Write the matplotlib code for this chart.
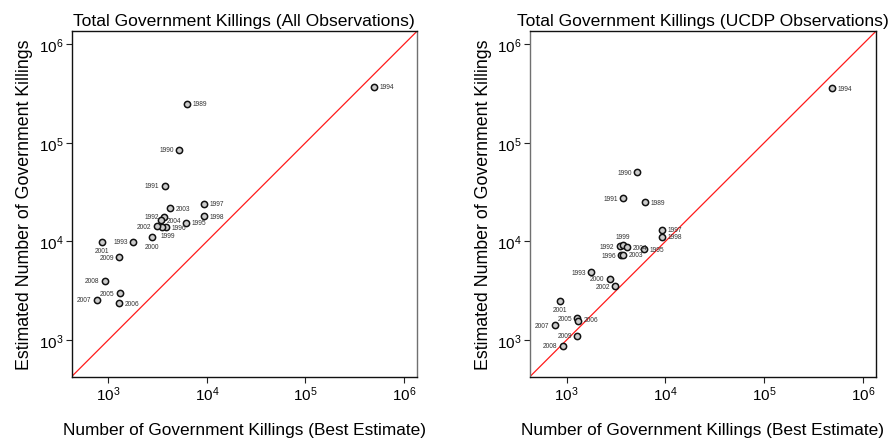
import matplotlib
matplotlib.use("Agg")
import matplotlib.pyplot as plt
from matplotlib.ticker import LogLocator, LogFormatterSciNotation, NullLocator

plt.rcParams["font.family"] = ["Liberation Sans", "DejaVu Sans"]
plt.rcParams["mathtext.fontset"] = "custom"
plt.rcParams["mathtext.rm"] = "Liberation Sans"
plt.rcParams["mathtext.it"] = "Liberation Sans:italic"
plt.rcParams["mathtext.bf"] = "Liberation Sans:bold"

# ---- All observations ----
all_years = [1989, 1990, 1991, 1992, 1993, 1994, 1995, 1996, 1997, 1998, 1999,
             2000, 2001, 2002, 2003, 2004, 2005, 2006, 2007, 2008, 2009]
all_best = [6230, 5240, 3750, 3690, 1790, 495000, 6120, 3870, 9330, 9330, 3500,
            2790, 858, 3130, 4220, 3440, 1323, 1292, 768, 926, 1292]
all_estimated = [248000, 85100, 36900, 17800, 9930, 372000, 15500, 13900, 24000, 18000, 14100,
                 11000, 9930, 14300, 21700, 16300, 2960, 2360, 2550, 3980, 6930]

# ---- UCDP observations ----
ucdp_years = [1989, 1990, 1991, 1992, 1993, 1994, 1995, 1996, 1997, 1998, 1999,
              2000, 2001, 2002, 2003, 2004, 2005, 2006, 2007, 2008, 2009]
ucdp_best = [6150, 5190, 3740, 3470, 1770, 486000, 6110, 3590, 9310, 9310, 3720,
             2760, 849, 3120, 3720, 4080, 1284, 1314, 755, 911, 1284]
ucdp_estimated = [25000, 50500, 27500, 8970, 4860, 358000, 8340, 7200, 13200, 11100, 9180,
                  4170, 2490, 3510, 7350, 8750, 1650, 1545, 1407, 869, 1106]

# label placement for each year's marker label
all_label_side = {
    1989: "r", 1990: "l", 1991: "l", 1992: "l", 1993: "l", 1994: "r", 1995: "r",
    1996: "r", 1997: "r", 1998: "r", 1999: "br", 2000: "b", 2001: "b", 2002: "l",
    2003: "r", 2004: "r", 2005: "l", 2006: "r", 2007: "l", 2008: "l", 2009: "l",
}
ucdp_label_side = {
    1989: "r", 1990: "l", 1991: "l", 1992: "l", 1993: "l", 1994: "r", 1995: "r",
    1996: "l", 1997: "r", 1998: "r", 1999: "t", 2000: "l", 2001: "b", 2002: "l",
    2003: "r", 2004: "r", 2005: "l", 2006: "tr", 2007: "l", 2008: "l", 2009: "l",
}

OFFSETS = {
    "r": ((4, 0), "left", "center"),
    "l": ((-4, 0), "right", "center"),
    "b": ((0, -4), "center", "top"),
    "br": ((4, -4), "center", "top"),
    "t": ((0, 3.5), "center", "bottom"),
    "tr": ((4, 1), "left", "center"),
}

LIM = (425, 1.35e6)

fig = plt.figure(figsize=(8.92, 4.39), dpi=100)
ax_left = fig.add_axes([0.0804, 0.140, 0.3868, 0.786])
ax_right = fig.add_axes([0.5942, 0.140, 0.3875, 0.786])


def draw_panel(ax, years, best, est, sides, title, gray_spine):
    ax.set_xscale("log")
    ax.set_yscale("log")
    ax.set_xlim(*LIM)
    ax.set_ylim(*LIM)
    ax.plot(LIM, LIM, color="#ff1a1a", lw=0.9, zorder=1)
    ax.plot(best, est, linestyle="none", marker="o", markersize=4.5,
            markerfacecolor="#cccccc", markeredgecolor="#111111",
            markeredgewidth=1.1, zorder=3)
    for yr, xv, yv in zip(years, best, est):
        off, ha, va = OFFSETS[sides[yr]]
        ax.annotate(str(yr), (xv, yv), xytext=off, textcoords="offset points",
                    ha=ha, va=va, fontsize=4.8, color="#333333")
    for axis in (ax.xaxis, ax.yaxis):
        axis.set_major_locator(LogLocator(base=10, numticks=10))
        axis.set_major_formatter(LogFormatterSciNotation())
        axis.set_minor_locator(NullLocator())
    ax.tick_params(direction="out", length=4.5, width=0.8, labelsize=11,
                   pad=1.5, color="#222222")
    for sp in ax.spines.values():
        sp.set_linewidth(1.0)
        sp.set_color("#111111")
    ax.spines[gray_spine].set_color("#707070")
    ax.set_title(title, fontsize=12.6, pad=5)
    ax.set_xlabel("Number of Government Killings (Best Estimate)", fontsize=12.4, labelpad=13)
    ax.set_ylabel("Estimated Number of Government Killings", fontsize=12.8, labelpad=4)


draw_panel(ax_left, all_years, all_best, all_estimated, all_label_side,
           "Total Government Killings (All Observations)", "right")
draw_panel(ax_right, ucdp_years, ucdp_best, ucdp_estimated, ucdp_label_side,
           "Total Government Killings (UCDP Observations)", "left")

fig.savefig("out.png", dpi=100)
